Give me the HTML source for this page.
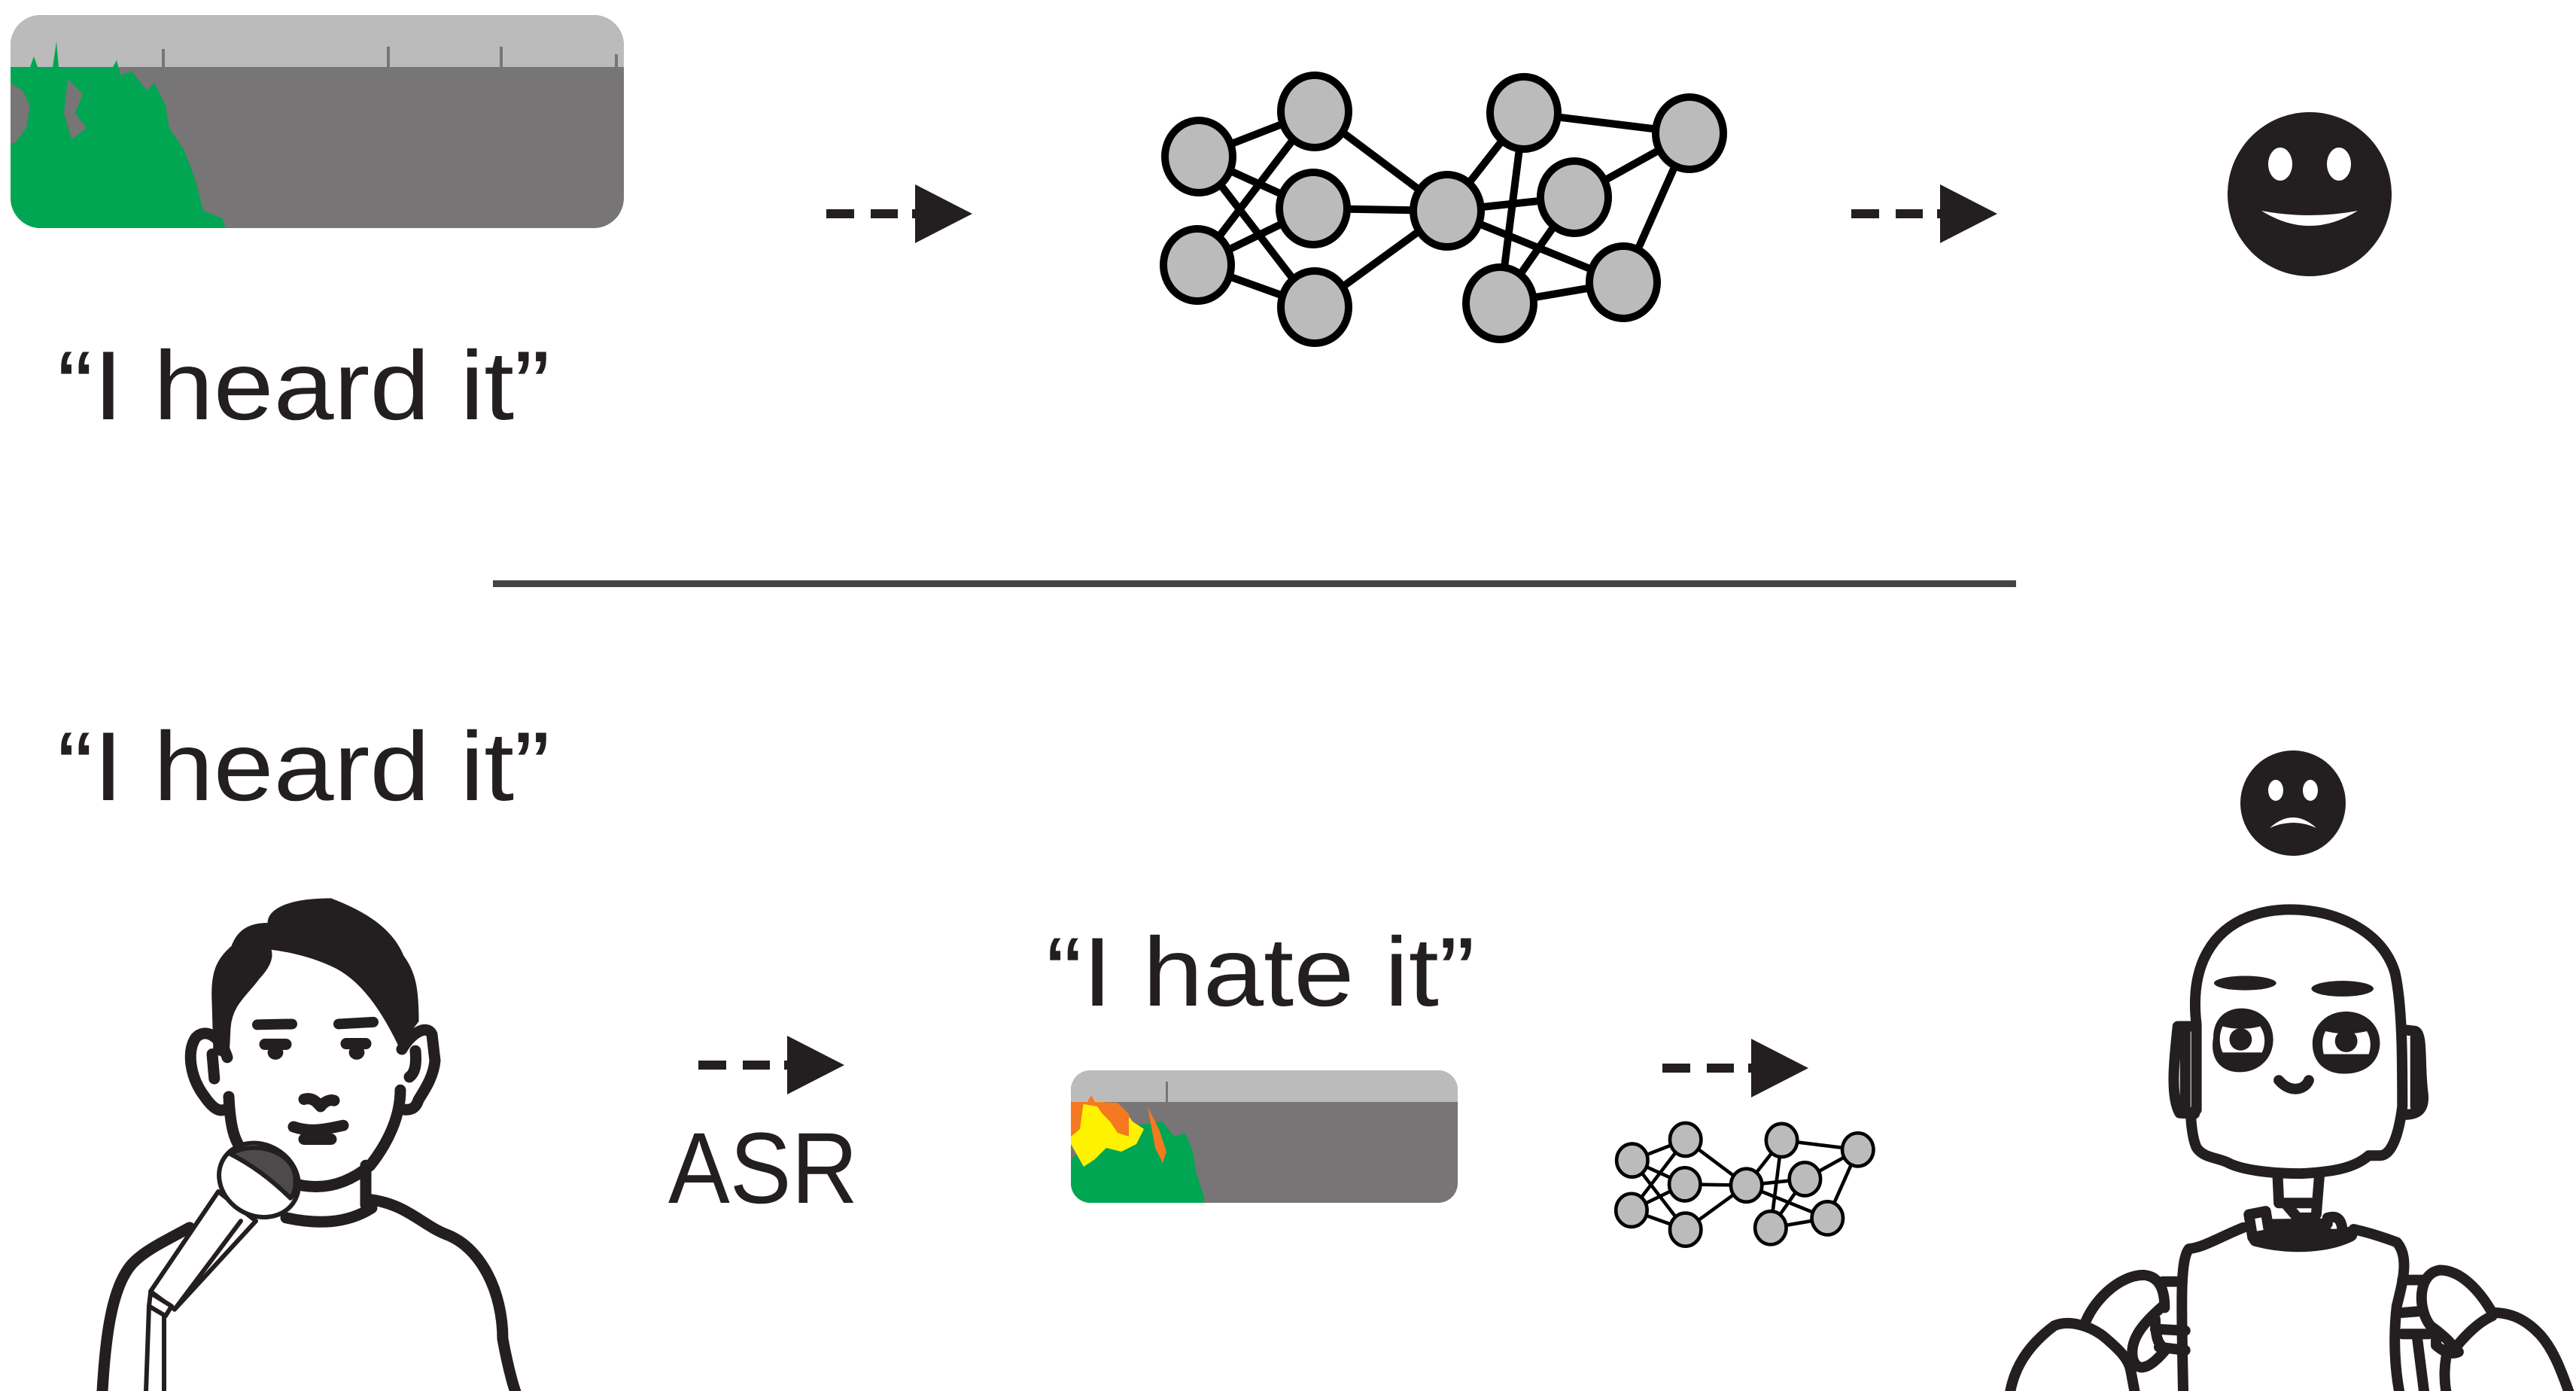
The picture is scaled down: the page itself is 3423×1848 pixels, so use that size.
<!DOCTYPE html>
<html><head><meta charset="utf-8"><style>
html,body{margin:0;padding:0;background:#fff;}
svg{display:block;}
text{font-family:"Liberation Sans",sans-serif;fill:#231f20;}
</style></head><body>
<svg width="3423" height="1848" viewBox="0 0 3423 1848" xmlns="http://www.w3.org/2000/svg">
<defs>
<clipPath id="c1"><rect x="14" y="20" width="815" height="283" rx="40"/></clipPath>
<clipPath id="c2"><rect x="1423" y="1422" width="514" height="176" rx="26"/></clipPath>
<g id="arrow">
<rect x="0" y="-6" width="37" height="12" fill="#231f20"/>
<rect x="59" y="-6" width="36" height="12" fill="#231f20"/>
<rect x="114" y="-6" width="16" height="12" fill="#231f20"/>
<polygon points="118,-39 194,0 118,39" fill="#231f20"/>
</g>
<g id="net" stroke="#000" stroke-width="10" fill="#bcbbbc">
<g fill="none">
<line x1="1593" y1="208" x2="1747" y2="148"/><line x1="1593" y1="208" x2="1745" y2="277"/><line x1="1593" y1="208" x2="1747" y2="408"/>
<line x1="1591" y1="352" x2="1747" y2="148"/><line x1="1591" y1="352" x2="1745" y2="277"/><line x1="1591" y1="352" x2="1747" y2="408"/>
<line x1="1747" y1="148" x2="1923" y2="280"/><line x1="1745" y1="277" x2="1923" y2="280"/><line x1="1747" y1="408" x2="1923" y2="280"/>
<line x1="1923" y1="280" x2="2025" y2="150"/><line x1="1923" y1="280" x2="2092" y2="262"/><line x1="1923" y1="280" x2="2157" y2="375"/>
<line x1="2025" y1="150" x2="2245" y2="177"/><line x1="2025" y1="150" x2="1993" y2="403"/><line x1="2245" y1="177" x2="2092" y2="262"/>
<line x1="2245" y1="177" x2="2157" y2="375"/><line x1="2092" y1="262" x2="1993" y2="403"/><line x1="1993" y1="403" x2="2157" y2="375"/>
</g>
<ellipse cx="1593" cy="208" rx="45" ry="48"/>
<ellipse cx="1591" cy="352" rx="45" ry="48"/>
<ellipse cx="1747" cy="148" rx="45" ry="48"/>
<ellipse cx="1745" cy="277" rx="45" ry="48"/>
<ellipse cx="1747" cy="408" rx="45" ry="48"/>
<ellipse cx="1923" cy="280" rx="45" ry="48"/>
<ellipse cx="2025" cy="150" rx="45" ry="48"/>
<ellipse cx="2245" cy="177" rx="45" ry="48"/>
<ellipse cx="2092" cy="262" rx="45" ry="48"/>
<ellipse cx="1993" cy="403" rx="45" ry="48"/>
<ellipse cx="2157" cy="375" rx="45" ry="48"/>
</g>
</defs>

<!-- top spectrogram -->
<g clip-path="url(#c1)">
<rect x="14" y="20" width="815" height="283" fill="#777576"/>
<rect x="14" y="20" width="815" height="69" fill="#bcbbbc"/>
<polygon fill="#00a651" points="14,89 40,89 45,75 50,89 70,89 75,55 78,89 150,89 155,80 160,100 175,95 195,120 205,110 220,140 225,170 245,200 260,240 270,280 295,290 300,303 14,303"/>
<polygon fill="#777576" points="14,110 30,120 40,140 35,170 20,190 14,190"/>
<polygon fill="#777576" points="90,105 110,125 100,150 115,170 95,185 85,150"/>
<rect x="215" y="65" width="4" height="40" fill="#777576"/>
<rect x="514" y="62" width="4" height="30" fill="#777576"/>
<rect x="664" y="62" width="4" height="30" fill="#777576"/>
<rect x="817" y="72" width="4" height="20" fill="#777576"/>
</g>
<g transform="translate(1098,284)"><use href="#arrow"/></g>
<use href="#net"/>
<g transform="translate(2460,284)"><use href="#arrow"/></g>
<!-- happy face -->
<circle cx="3069" cy="258" r="109" fill="#231f20"/>
<ellipse cx="3030" cy="218" rx="16" ry="22" fill="#fff"/>
<ellipse cx="3108" cy="218" rx="16" ry="22" fill="#fff"/>
<path d="M3005,280 Q3069,292 3133,280 Q3069,320 3005,280 Z" fill="#fff"/>

<text x="76" y="557" font-size="130" textLength="655" lengthAdjust="spacingAndGlyphs">“I heard it”</text>
<rect x="655" y="771" width="2024" height="9" fill="#444"/>
<text x="76" y="1063" font-size="130" textLength="655" lengthAdjust="spacingAndGlyphs">“I heard it”</text>

<!-- sad face -->
<circle cx="3047" cy="1067" r="70" fill="#231f20"/>
<ellipse cx="3024" cy="1050" rx="10" ry="14" fill="#fff"/>
<ellipse cx="3070" cy="1050" rx="10" ry="14" fill="#fff"/>
<path d="M3016,1100 Q3047,1072 3078,1100 Q3047,1086 3016,1100 Z" fill="#fff"/>

<!-- person -->
<g transform="translate(100,1170) scale(0.4,0.4348)" fill="none" stroke="#231f20" stroke-linecap="round" stroke-linejoin="round">
<path vector-effect="non-scaling-stroke" stroke-width="1" fill="#231f20" d="M455,370 C450,280 470,240 520,200 C540,150 580,130 640,130 C640,90 700,55 850,55 C950,90 1050,140 1090,230 C1130,280 1140,330 1140,430 L1075,505 C1020,400 950,300 850,260 C780,230 700,215 650,210 C660,240 640,270 610,300 C570,350 520,380 515,450 L510,540 L460,530 Z"/>
<g stroke-width="15" vector-effect="non-scaling-stroke">
<path vector-effect="non-scaling-stroke" d="M510,660 C515,760 530,810 580,850 C640,900 720,935 800,935 C880,935 940,900 980,870 C1040,800 1080,720 1080,640"/>
<path vector-effect="non-scaling-stroke" d="M505,540 C480,470 430,450 400,480 C370,520 380,600 430,660 C460,700 480,705 495,700"/>
<path vector-effect="non-scaling-stroke" d="M455,530 L462,605"/>
<path vector-effect="non-scaling-stroke" d="M1085,515 C1120,460 1170,440 1185,470 L1195,550 C1190,600 1160,640 1140,670 C1130,700 1110,700 1095,700"/>
<path vector-effect="non-scaling-stroke" d="M1130,520 C1135,570 1125,590 1110,600"/>
<path vector-effect="non-scaling-stroke" d="M965,870 L965,990"/>
<path vector-effect="non-scaling-stroke" d="M700,1030 C800,1050 900,1050 985,1000"/>
<path vector-effect="non-scaling-stroke" d="M985,975 C1100,990 1150,1050 1230,1080 C1350,1120 1420,1260 1420,1400 C1440,1500 1460,1560 1470,1580"/>
<path vector-effect="non-scaling-stroke" d="M380,1060 C300,1100 230,1130 190,1170 C120,1240 100,1400 90,1560"/>
<path vector-effect="non-scaling-stroke" d="M760,668 C790,660 805,680 815,690 C830,672 850,668 860,672"/>
<path vector-effect="non-scaling-stroke" d="M725,752 C780,770 830,760 890,748"/>
<path vector-effect="non-scaling-stroke" d="M760,790 L850,790"/>
<path vector-effect="non-scaling-stroke" d="M630,500 L700,500"/>
<path vector-effect="non-scaling-stroke" d="M900,498 L965,498"/>
</g>
<path vector-effect="non-scaling-stroke" stroke-width="14" d="M605,440 L720,438 M875,438 L990,432"/>
<ellipse cx="665" cy="525" rx="26" ry="22" fill="#231f20" stroke="none"/>
<ellipse cx="935" cy="525" rx="26" ry="22" fill="#231f20" stroke="none"/>
<!-- mic -->
<g stroke-width="6" vector-effect="non-scaling-stroke">
<path vector-effect="non-scaling-stroke" fill="#fff" d="M475,950 L600,1040 L330,1310 L250,1255 Z"/>
<path vector-effect="non-scaling-stroke" fill="#fff" d="M250,1260 L320,1300 L300,1330 L245,1300 Z"/>
<path vector-effect="non-scaling-stroke" d="M245,1300 L235,1560 M295,1330 L295,1560 M330,1310 L550,1040"/>
<ellipse vector-effect="non-scaling-stroke" cx="610" cy="915" rx="135" ry="110" transform="rotate(20 610 915)" fill="#fff"/>
<path vector-effect="non-scaling-stroke" fill="#4d4a4b" d="M515,835 C600,790 720,830 730,900 C735,940 725,960 715,970 C660,920 590,870 515,835 Z"/>
</g>
</g>

<g transform="translate(928,1415)"><use href="#arrow"/></g>
<text x="888" y="1598" font-size="134" textLength="252" lengthAdjust="spacingAndGlyphs">ASR</text>
<text x="1390" y="1336" font-size="130" textLength="570" lengthAdjust="spacingAndGlyphs">“I hate it”</text>

<!-- small spectrogram -->
<g clip-path="url(#c2)">
<rect x="1423" y="1422" width="514" height="176" fill="#777576"/>
<rect x="1423" y="1422" width="514" height="42" fill="#bcbbbc"/>
<polygon fill="#00a651" points="1423,1540 1450,1520 1480,1500 1510,1495 1545,1490 1560,1510 1575,1505 1585,1530 1590,1560 1600,1590 1600,1598 1423,1598"/>
<polygon fill="#fff200" points="1423,1520 1423,1464 1465,1464 1490,1470 1505,1490 1520,1500 1510,1520 1490,1530 1470,1525 1455,1540 1440,1550"/>
<polygon fill="#f47920" points="1423,1464 1445,1464 1450,1455 1455,1464 1485,1465 1500,1480 1500,1510 1485,1505 1475,1490 1465,1480 1458,1470"/>
<polygon fill="#f47920" points="1423,1464 1440,1464 1435,1500 1423,1510"/>
<polygon fill="#f47920" points="1525,1470 1540,1500 1550,1530 1545,1545 1535,1525"/>
<rect x="1549" y="1437" width="3" height="30" fill="#777576"/>
</g>

<g transform="translate(2209,1419)"><use href="#arrow"/></g>
<g transform="translate(2144,1491) scale(0.46) translate(-1539,-98)"><use href="#net"/></g>

<!-- robot -->
<g transform="translate(2650,1170) scale(0.4975,0.4348)" fill="none" stroke="#231f20" stroke-linecap="round" stroke-linejoin="round">
<g stroke-width="14">
<path vector-effect="non-scaling-stroke" d="M540,440 C520,250 590,150 680,110 C750,80 820,85 880,100 C950,120 1040,170 1070,280 C1090,380 1090,550 1090,690 C1080,780 1060,840 1030,840 L1000,840 C960,880 900,890 820,895 C720,895 660,880 630,865 C600,845 560,850 540,815 C530,790 525,740 525,710 L540,700 Z"/>
<path vector-effect="non-scaling-stroke" d="M535,445 L490,445 C480,550 470,660 495,710 L535,712 M510,460 L510,700"/>
<path vector-effect="non-scaling-stroke" d="M1090,455 L1125,460 C1145,470 1135,560 1145,650 C1150,700 1130,715 1095,715 M1125,480 L1125,690"/>
<path vector-effect="non-scaling-stroke" d="M760,610 C790,650 830,640 840,610"/>
<path vector-effect="non-scaling-stroke" d="M757,905 L760,980 M868,905 L860,1020 M760,985 L860,985 M780,990 L810,1030 L850,1030"/>
<path vector-effect="non-scaling-stroke" d="M680,1020 L725,1010 L735,1080 L690,1090 Z M890,1030 C920,1020 930,1040 930,1080 L895,1080 M735,1050 L890,1048 M735,1078 L890,1075"/>
<path vector-effect="non-scaling-stroke" d="M665,1060 C600,1090 560,1120 520,1125 C495,1160 500,1300 505,1580"/>
<path vector-effect="non-scaling-stroke" d="M960,1065 C1000,1075 1040,1090 1075,1105 C1110,1150 1090,1230 1075,1300 C1065,1400 1070,1500 1085,1580"/>
<path vector-effect="non-scaling-stroke" d="M40,1580 C50,1490 90,1420 160,1360 C200,1340 260,1360 300,1400 C330,1430 360,1460 365,1500 L378,1580"/>
<path vector-effect="non-scaling-stroke" d="M240,1360 C260,1290 330,1205 400,1205 C450,1210 455,1270 455,1305"/>
<path vector-effect="non-scaling-stroke" d="M450,1300 C400,1350 360,1400 370,1460 C380,1500 410,1500 460,1430"/>
<path vector-effect="non-scaling-stroke" d="M450,1225 L490,1225 M430,1370 L510,1375 M440,1425 L510,1435 M430,1340 C430,1400 440,1425 460,1430"/>
<path vector-effect="non-scaling-stroke" d="M1540,1580 C1510,1480 1490,1430 1460,1390 C1420,1340 1380,1320 1330,1320"/>
<path vector-effect="non-scaling-stroke" d="M1330,1320 C1300,1260 1250,1190 1190,1190 C1130,1200 1130,1310 1165,1360 C1190,1380 1220,1410 1230,1430"/>
<path vector-effect="non-scaling-stroke" d="M1230,1430 C1250,1400 1290,1350 1330,1330 M1215,1420 C1200,1470 1200,1530 1210,1580"/>
<path vector-effect="non-scaling-stroke" d="M1090,1220 L1150,1220 M1090,1320 L1145,1315 M1090,1385 L1160,1385 M1130,1400 L1150,1580 M1180,1390 L1180,1420 C1200,1440 1220,1450 1240,1440"/>
</g>
<path vector-effect="non-scaling-stroke" stroke-width="20" d="M700,1095 C800,1125 900,1110 950,1080"/>
<ellipse cx="670" cy="313" rx="83" ry="22" fill="#231f20" stroke="none"/>
<ellipse cx="930" cy="330" rx="83" ry="24" fill="#231f20" stroke="none"/>
<path fill="#231f20" stroke="none" d="M585,480 C585,420 620,390 660,390 C710,390 745,430 745,485 C745,540 710,585 655,585 C605,585 575,545 585,480 Z M610,445 C600,470 600,500 610,525 L715,525 C725,500 725,470 710,445 C680,455 640,455 610,445 Z"/>
<path fill="#231f20" stroke="none" d="M850,500 C850,440 890,400 940,400 C990,400 1030,440 1030,495 C1030,550 995,590 935,590 C880,590 850,550 850,500 Z M885,460 C875,480 875,505 880,530 L1000,530 C1008,505 1005,480 995,460 C960,470 920,470 885,460 Z"/>
<ellipse cx="658" cy="485" rx="30" ry="34" fill="#231f20" stroke="none"/>
<ellipse cx="940" cy="490" rx="30" ry="34" fill="#231f20" stroke="none"/>
</g>
</svg>
</body></html>
